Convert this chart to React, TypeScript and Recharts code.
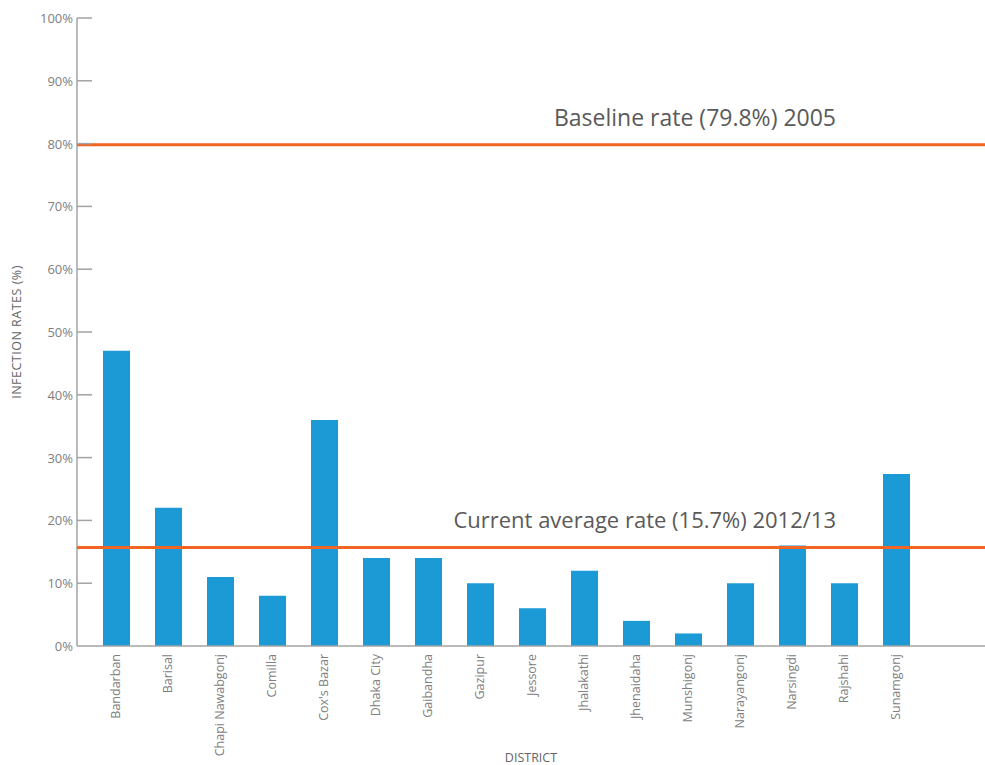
import React from 'react';
import {
  BarChart,
  Bar,
  XAxis,
  YAxis,
  ReferenceLine,
} from 'recharts';

const districts = [
  'Bandarban',
  'Barisal',
  'Chapi Nawabgonj',
  'Comilla',
  "Cox's Bazar",
  'Dhaka City',
  'Gaibandha',
  'Gazipur',
  'Jessore',
  'Jhalakathi',
  'Jhenaidaha',
  'Munshigonj',
  'Narayangonj',
  'Narsingdi',
  'Rajshahi',
  'Sunamgonj',
];

const infectionRates = [47, 22, 11, 8, 36, 14, 14, 10, 6, 12, 4, 2, 10, 16, 10, 27.4];

const yTicks = [0, 10, 20, 30, 40, 50, 60, 70, 80, 90, 100];

const baselineRate = 79.8;
const currentRate = 15.7;

const data = districts.map((name, i) => ({ name, rate: infectionRates[i] }));

const FONT = '"Open Sans", "Noto Sans", sans-serif';
const AXIS = '#a3a3a3';
const TEXT = '#808080';
const ORANGE = '#f26522';
const BLUE = '#1b9ad6';

const YTick = (props: any) => {
  const { x, y, payload } = props;
  return (
    <g>
      {payload.value !== 0 && (
        <line x1={x} x2={x + 15} y1={y} y2={y} stroke={AXIS} strokeWidth={1.5} />
      )}
      <text
        x={x - 4}
        y={y}
        dy={5}
        textAnchor="end"
        fill={TEXT}
        fontSize={13}
        fontFamily={FONT}
      >
        {`${payload.value}%`}
      </text>
    </g>
  );
};

const XTick = (props: any) => {
  const { x, y, payload } = props;
  return (
    <g transform={`translate(${x},${y})`}>
      <text
        transform="rotate(-90)"
        x={-8}
        dy={4}
        textAnchor="end"
        fill={TEXT}
        fontSize={12.5}
        fontFamily={FONT}
      >
        {payload.value}
      </text>
    </g>
  );
};

const lineLabel = (text: string, size: number) => (props: any) => {
  const { viewBox } = props;
  return (
    <text
      x={viewBox.x + viewBox.width - 149}
      y={viewBox.y - 19}
      textAnchor="end"
      fill="#5a5a5a"
      fontSize={size}
      fontFamily={FONT}
    >
      {text}
    </text>
  );
};

export default function App() {
  return (
    <div
      style={{
        position: 'absolute',
        left: 0,
        top: 0,
        width: 985,
        height: 765,
        overflow: 'hidden',
        background: '#fff',
      }}
    >
      <BarChart
        width={985}
        height={765}
        data={data}
        margin={{ top: 18, right: 0, left: 0, bottom: 0 }}
      >
        <XAxis
          dataKey="name"
          interval={0}
          height={119}
          padding={{ left: 13, right: 63 }}
          axisLine={{ stroke: AXIS, strokeWidth: 1.5 }}
          tickLine={false}
          tickSize={0}
          tickMargin={0}
          tick={<XTick />}
          label={{
            value: 'DISTRICT',
            position: 'insideBottom',
            offset: 3,
            fill: '#666',
            fontSize: 12.5,
            fontFamily: FONT,
          }}
        />
        <YAxis
          width={77}
          domain={[0, 100]}
          ticks={yTicks}
          interval={0}
          axisLine={{ stroke: AXIS, strokeWidth: 1.5 }}
          tickLine={false}
          tickSize={0}
          tickMargin={0}
          tick={<YTick />}
          label={{
            value: 'INFECTION RATES (%)',
            angle: -90,
            position: 'insideLeft',
            offset: 17,
            fill: '#666',
            fontSize: 12.5,
            fontFamily: FONT,
            style: { textAnchor: 'middle', letterSpacing: 0.5 },
          }}
        />
        <Bar dataKey="rate" fill={BLUE} barSize={27} isAnimationActive={false} />
        <ReferenceLine
          y={baselineRate}
          stroke={ORANGE}
          strokeWidth={3}
          zIndex={900}
          label={lineLabel('Baseline rate (79.8%) 2005', 23)}
        />
        <ReferenceLine
          y={currentRate}
          stroke={ORANGE}
          strokeWidth={3}
          zIndex={900}
          label={lineLabel('Current average rate (15.7%) 2012/13', 22)}
        />
      </BarChart>
      <div
        style={{
          position: 'absolute',
          left: 0,
          top: 760,
          color: '#29a8e0',
          fontFamily: FONT,
          fontWeight: 700,
          fontSize: 14,
          letterSpacing: 1,
        }}
      >
        NOTES
      </div>
    </div>
  );
}
